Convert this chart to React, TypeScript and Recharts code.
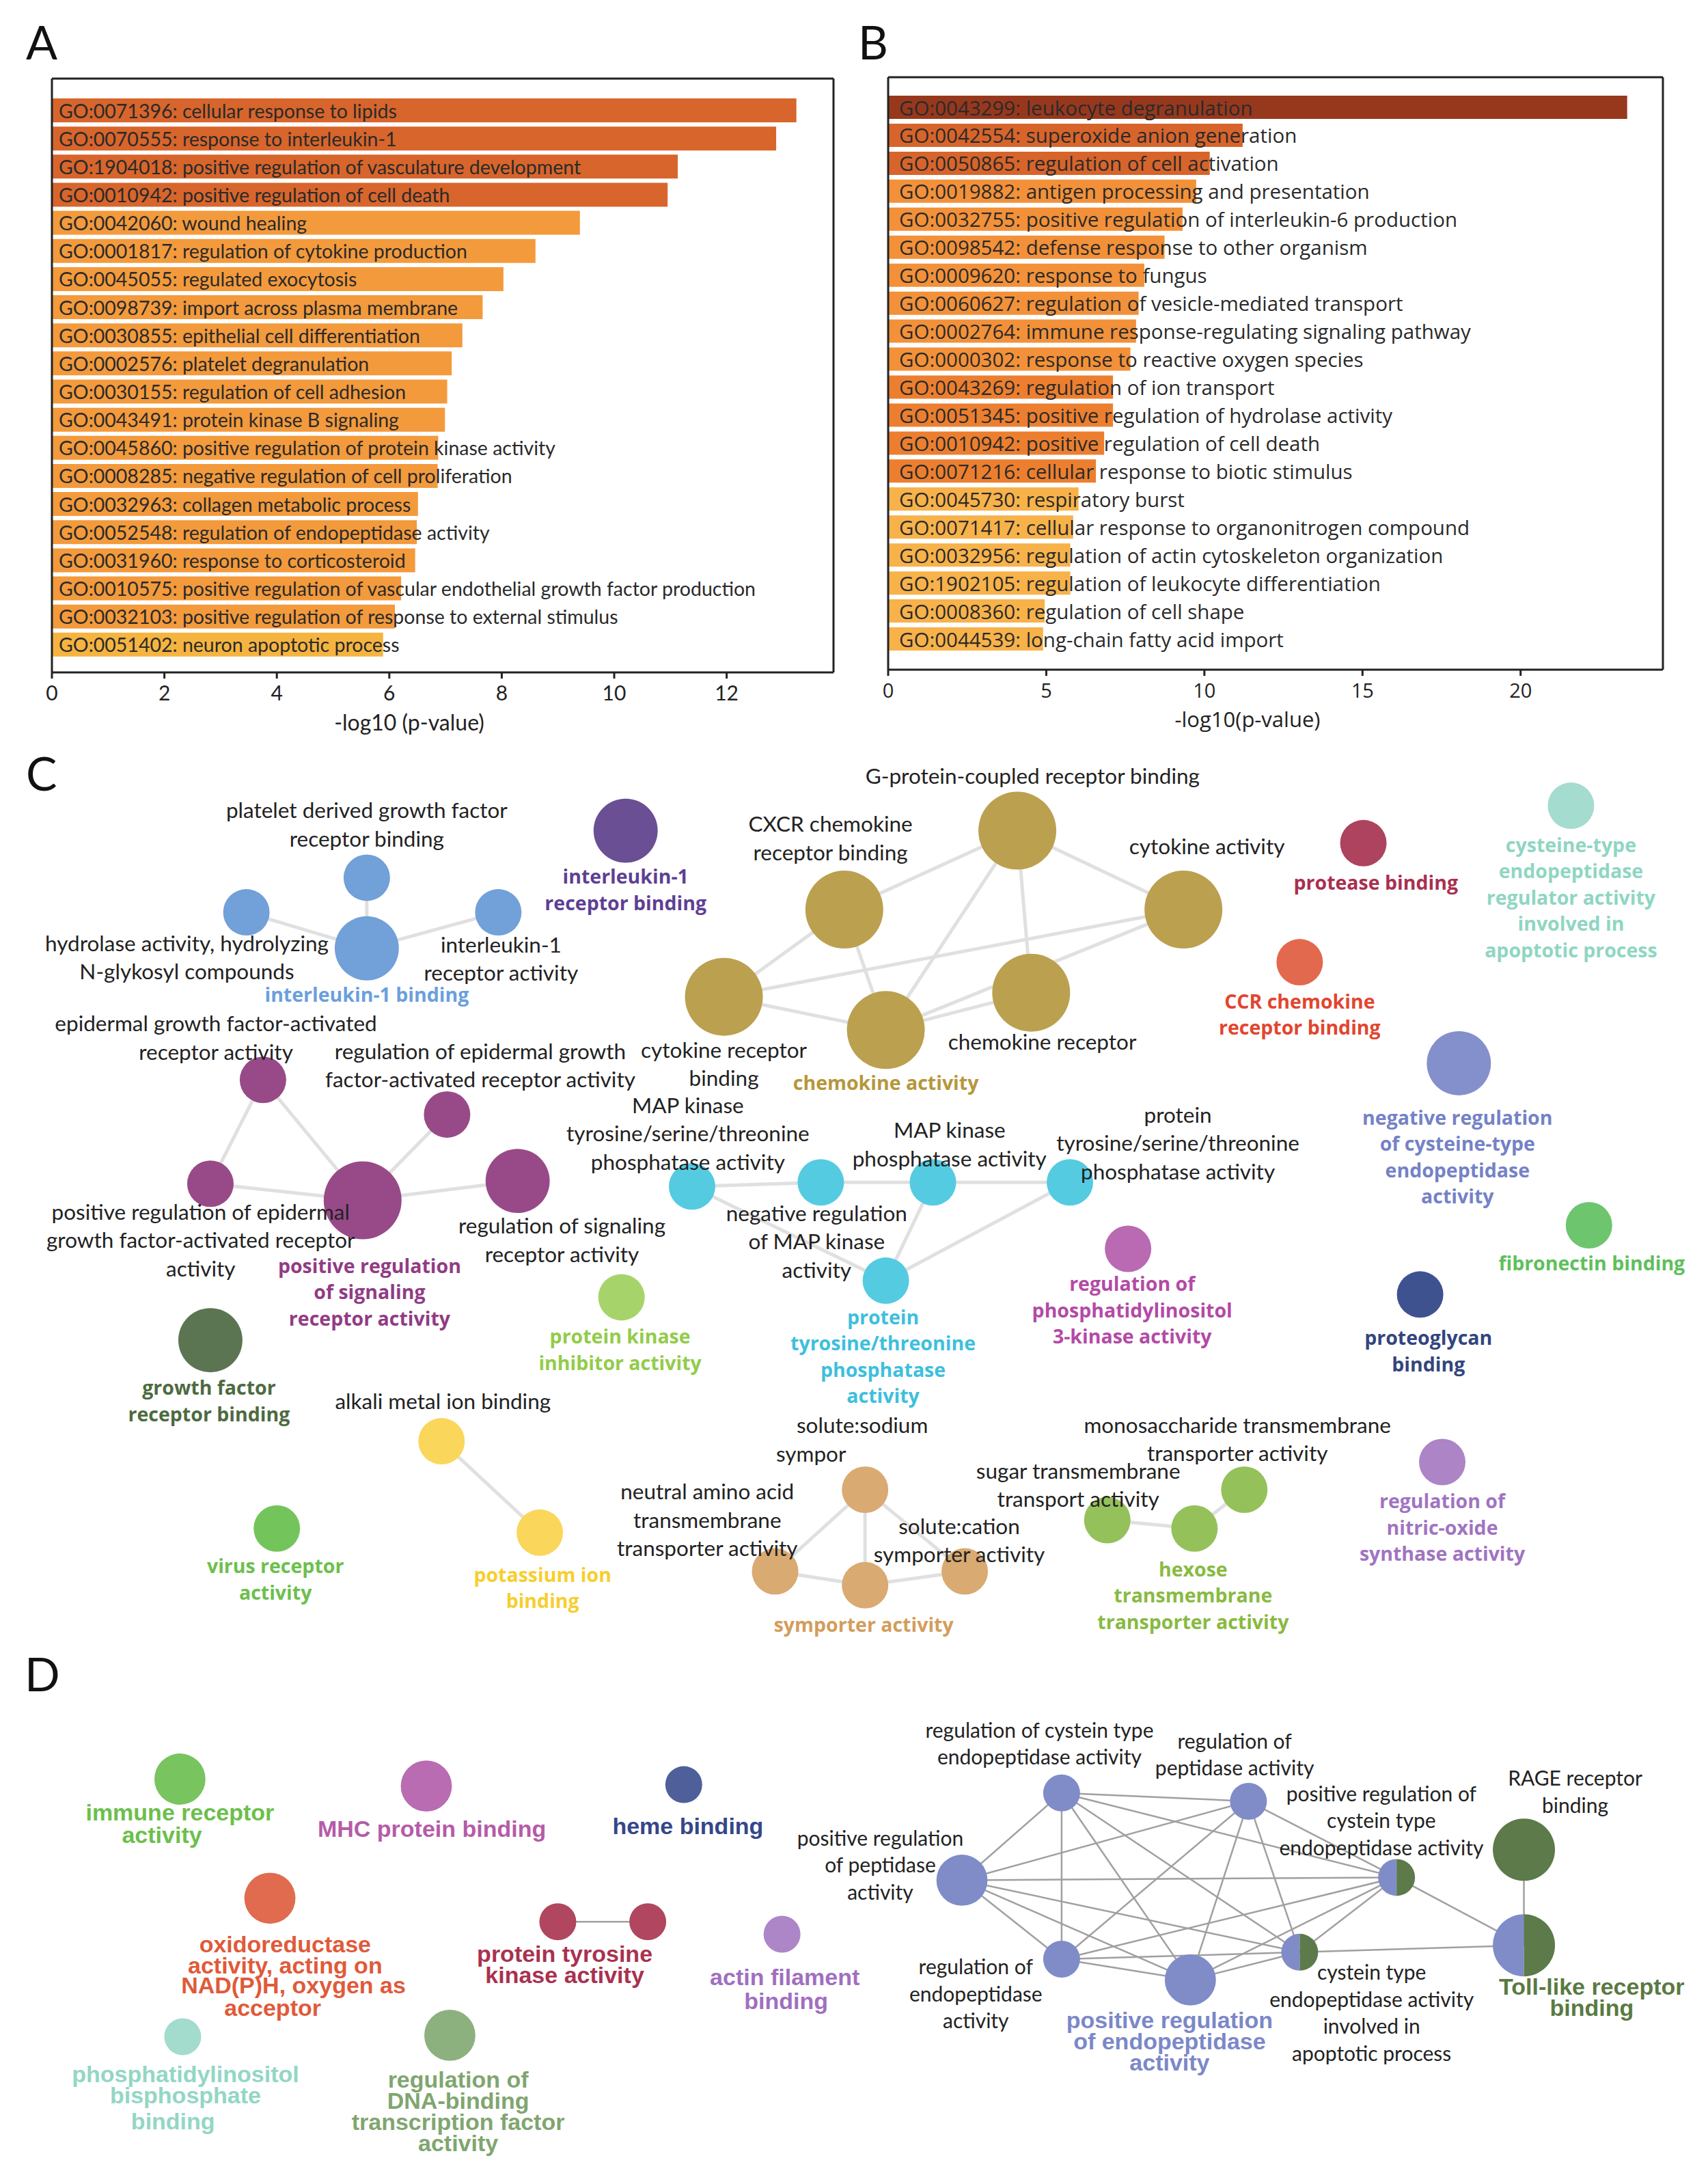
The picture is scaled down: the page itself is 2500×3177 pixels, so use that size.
import React from 'react';
import {
  BarChart, Bar, XAxis, YAxis, Cell, LabelList, Label,
  ScatterChart, Scatter, ZAxis,
} from 'recharts';

// ---------- Panel A ----------
const termsA = [
  'GO:0071396: cellular response to lipids',
  'GO:0070555: response to interleukin-1',
  'GO:1904018: positive regulation of vasculature development',
  'GO:0010942: positive regulation of cell death',
  'GO:0042060: wound healing',
  'GO:0001817: regulation of cytokine production',
  'GO:0045055: regulated exocytosis',
  'GO:0098739: import across plasma membrane',
  'GO:0030855: epithelial cell differentiation',
  'GO:0002576: platelet degranulation',
  'GO:0030155: regulation of cell adhesion',
  'GO:0043491: protein kinase B signaling',
  'GO:0045860: positive regulation of protein kinase activity',
  'GO:0008285: negative regulation of cell proliferation',
  'GO:0032963: collagen metabolic process',
  'GO:0052548: regulation of endopeptidase activity',
  'GO:0031960: response to corticosteroid',
  'GO:0010575: positive regulation of vascular endothelial growth factor production',
  'GO:0032103: positive regulation of response to external stimulus',
  'GO:0051402: neuron apoptotic process',
];
const valuesA = [13.24, 12.88, 11.13, 10.95, 9.39, 8.6, 8.03, 7.66, 7.3, 7.11, 7.03, 6.99, 6.87, 6.86, 6.51, 6.49, 6.46, 6.21, 6.1, 5.89];
const levelsA = [0, 0, 0, 0, 1, 1, 1, 1, 1, 1, 1, 1, 1, 1, 1, 1, 1, 1, 1, 2];
const ticksA = [0, 2, 4, 6, 8, 10, 12];

// ---------- Panel B ----------
const termsB = [
  'GO:0043299: leukocyte degranulation',
  'GO:0042554: superoxide anion generation',
  'GO:0050865: regulation of cell activation',
  'GO:0019882: antigen processing and presentation',
  'GO:0032755: positive regulation of interleukin-6 production',
  'GO:0098542: defense response to other organism',
  'GO:0009620: response to fungus',
  'GO:0060627: regulation of vesicle-mediated transport',
  'GO:0002764: immune response-regulating signaling pathway',
  'GO:0000302: response to reactive oxygen species',
  'GO:0043269: regulation of ion transport',
  'GO:0051345: positive regulation of hydrolase activity',
  'GO:0010942: positive regulation of cell death',
  'GO:0071216: cellular response to biotic stimulus',
  'GO:0045730: respiratory burst',
  'GO:0071417: cellular response to organonitrogen compound',
  'GO:0032956: regulation of actin cytoskeleton organization',
  'GO:1902105: regulation of leukocyte differentiation',
  'GO:0008360: regulation of cell shape',
  'GO:0044539: long-chain fatty acid import',
];
const valuesB = [23.37, 11.21, 10.17, 9.74, 9.31, 8.74, 8.1, 7.92, 7.84, 7.66, 7.11, 7.11, 6.83, 6.57, 6.02, 5.85, 5.76, 5.76, 4.95, 4.9];
const levelsB = [0, 1, 1, 3, 3, 3, 3, 3, 3, 3, 2, 2, 2, 2, 4, 4, 4, 4, 4, 4];
const ticksB = [0, 5, 10, 15, 20];

const paletteA = ['#d8652b', '#f39a3c', '#f5b440'];
const paletteB = ['#97381d', '#d7642b', '#ec7f2f', '#f29139', '#f7b24a'];

// ---------- Panel C network ----------
const nodesC = [
  { id: 'pdgf', x: 265, y: 634, size: 1, group: 'il1b' },
  { id: 'hydro', x: 178, y: 659, size: 1, group: 'il1b' },
  { id: 'il1ra', x: 360, y: 659, size: 1, group: 'il1b' },
  { id: 'il1b', x: 265, y: 685, size: 2, group: 'il1b' },
  { id: 'il1rb', x: 452, y: 600, size: 2, group: 'il1rb' },
  { id: 'gpcr', x: 735, y: 600, size: 3, group: 'chemo' },
  { id: 'cxcr', x: 610, y: 657, size: 3, group: 'chemo' },
  { id: 'cytact', x: 855, y: 657, size: 3, group: 'chemo' },
  { id: 'cytrec', x: 523, y: 720, size: 3, group: 'chemo' },
  { id: 'chemoact', x: 640, y: 744, size: 3, group: 'chemo' },
  { id: 'chemorec', x: 745, y: 717, size: 3, group: 'chemo' },
  { id: 'protease', x: 985, y: 609, size: 1, group: 'protease' },
  { id: 'ccr', x: 939, y: 695, size: 1, group: 'ccr' },
  { id: 'cysreg', x: 1135, y: 582, size: 1, group: 'cysreg' },
  { id: 'egfr', x: 190, y: 780, size: 1, group: 'sig' },
  { id: 'regegfr', x: 323, y: 805, size: 1, group: 'sig' },
  { id: 'posegfr', x: 152, y: 855, size: 1, group: 'sig' },
  { id: 'possig', x: 262, y: 867, size: 3, group: 'sig' },
  { id: 'regsig', x: 374, y: 853, size: 2, group: 'sig' },
  { id: 'mapk3', x: 500, y: 857, size: 1, group: 'ptp' },
  { id: 'negmapk', x: 593, y: 854, size: 1, group: 'ptp' },
  { id: 'mkp', x: 674, y: 854, size: 1, group: 'ptp' },
  { id: 'ptyr3', x: 773, y: 854, size: 1, group: 'ptp' },
  { id: 'ptp', x: 640, y: 925, size: 1, group: 'ptp' },
  { id: 'negcys', x: 1054, y: 768, size: 2, group: 'negcys' },
  { id: 'fibro', x: 1148, y: 885, size: 1, group: 'fibro' },
  { id: 'pi3k', x: 815, y: 902, size: 1, group: 'pi3k' },
  { id: 'proteo', x: 1026, y: 935, size: 1, group: 'proteo' },
  { id: 'pki', x: 449, y: 937, size: 1, group: 'pki' },
  { id: 'gfrb', x: 152, y: 968, size: 2, group: 'gfrb' },
  { id: 'alkali', x: 319, y: 1041, size: 1, group: 'potas' },
  { id: 'potas', x: 390, y: 1107, size: 1, group: 'potas' },
  { id: 'virus', x: 200, y: 1104, size: 1, group: 'virus' },
  { id: 'sodium', x: 625, y: 1076, size: 1, group: 'symp' },
  { id: 'neutral', x: 560, y: 1135, size: 1, group: 'symp' },
  { id: 'symp', x: 625, y: 1145, size: 1, group: 'symp' },
  { id: 'cation', x: 697, y: 1135, size: 1, group: 'symp' },
  { id: 'sugar', x: 800, y: 1098, size: 1, group: 'hex' },
  { id: 'hexose', x: 863, y: 1104, size: 1, group: 'hex' },
  { id: 'mono', x: 899, y: 1076, size: 1, group: 'hex' },
  { id: 'nos', x: 1042, y: 1056, size: 1, group: 'nos' },
];

const edgesC = [
  ['il1b', 'pdgf'], ['il1b', 'hydro'], ['il1b', 'il1ra'],
  ['gpcr', 'cxcr'], ['gpcr', 'cytact'], ['gpcr', 'chemorec'], ['gpcr', 'chemoact'],
  ['cxcr', 'cytrec'], ['cxcr', 'chemoact'], ['cytrec', 'cytact'], ['cytrec', 'chemoact'],
  ['chemoact', 'chemorec'], ['chemoact', 'cytact'],
  ['egfr', 'posegfr'], ['egfr', 'possig'], ['regegfr', 'possig'], ['posegfr', 'possig'], ['possig', 'regsig'],
  ['mapk3', 'negmapk'], ['negmapk', 'mkp'], ['mkp', 'ptyr3'], ['mapk3', 'ptp'], ['mkp', 'ptp'], ['ptyr3', 'ptp'],
  ['alkali', 'potas'],
  ['sodium', 'symp'], ['sodium', 'neutral'], ['sodium', 'cation'], ['neutral', 'symp'], ['symp', 'cation'],
  ['sugar', 'hexose'], ['hexose', 'mono'],
];

const labelsC = [
  { x: 265, y: 585, lines: ['platelet derived growth factor', 'receptor binding'] },
  { x: 135, y: 681, lines: ['hydrolase activity, hydrolyzing', 'N-glykosyl compounds'] },
  { x: 362, y: 682, lines: ['interleukin-1', 'receptor activity'] },
  { x: 746, y: 560, lines: ['G-protein-coupled receptor binding'] },
  { x: 600, y: 595, lines: ['CXCR chemokine', 'receptor binding'] },
  { x: 872, y: 611, lines: ['cytokine activity'] },
  { x: 523, y: 758, lines: ['cytokine receptor', 'binding'] },
  { x: 753, y: 752, lines: ['chemokine receptor'] },
  { x: 156, y: 739, lines: ['epidermal growth factor-activated', 'receptor activity'] },
  { x: 347, y: 759, lines: ['regulation of epidermal growth', 'factor-activated receptor activity'] },
  { x: 145, y: 875, lines: ['positive regulation of epidermal', 'growth factor-activated receptor', 'activity'] },
  { x: 406, y: 885, lines: ['regulation of signaling', 'receptor activity'] },
  { x: 497, y: 798, lines: ['MAP kinase', 'tyrosine/serine/threonine', 'phosphatase activity'] },
  { x: 686, y: 816, lines: ['MAP kinase', 'phosphatase activity'] },
  { x: 851, y: 805, lines: ['protein', 'tyrosine/serine/threonine', 'phosphatase activity'] },
  { x: 590, y: 876, lines: ['negative regulation', 'of MAP kinase', 'activity'] },
  { x: 320, y: 1012, lines: ['alkali metal ion binding'] },
  { x: 623, y: 1029, lines: ['solute:sodium'] },
  { x: 586, y: 1050, lines: ['sympor'] },
  { x: 511, y: 1077, lines: ['neutral amino acid', 'transmembrane', 'transporter activity'] },
  { x: 693, y: 1102, lines: ['solute:cation', 'symporter activity'] },
  { x: 894, y: 1029, lines: ['monosaccharide transmembrane', 'transporter activity'] },
  { x: 779, y: 1062, lines: ['sugar transmembrane', 'transport activity'] },
  { x: 265, y: 718, lines: ['interleukin-1 binding'], group: 'il1b' },
  { x: 452, y: 633, lines: ['interleukin-1', 'receptor binding'], group: 'il1rb' },
  { x: 640, y: 782, lines: ['chemokine activity'], group: 'chemo' },
  { x: 994, y: 637, lines: ['protease binding'], group: 'protease' },
  { x: 939, y: 723, lines: ['CCR chemokine', 'receptor binding'], group: 'ccr' },
  { x: 1135, y: 610, lines: ['cysteine-type', 'endopeptidase', 'regulator activity', 'involved in', 'apoptotic process'], group: 'cysreg' },
  { x: 267, y: 914, lines: ['positive regulation', 'of signaling', 'receptor activity'], group: 'sig' },
  { x: 638, y: 951, lines: ['protein', 'tyrosine/threonine', 'phosphatase', 'activity'], group: 'ptp' },
  { x: 1053, y: 807, lines: ['negative regulation', 'of cysteine-type', 'endopeptidase', 'activity'], group: 'negcys' },
  { x: 1150, y: 912, lines: ['fibronectin binding'], group: 'fibro' },
  { x: 818, y: 927, lines: ['regulation of', 'phosphatidylinositol', '3-kinase activity'], group: 'pi3k' },
  { x: 1032, y: 966, lines: ['proteoglycan', 'binding'], group: 'proteo' },
  { x: 448, y: 965, lines: ['protein kinase', 'inhibitor activity'], group: 'pki' },
  { x: 151, y: 1002, lines: ['growth factor', 'receptor binding'], group: 'gfrb' },
  { x: 392, y: 1137, lines: ['potassium ion', 'binding'], group: 'potas' },
  { x: 199, y: 1131, lines: ['virus receptor', 'activity'], group: 'virus' },
  { x: 624, y: 1173, lines: ['symporter activity'], group: 'symp' },
  { x: 862, y: 1133, lines: ['hexose', 'transmembrane', 'transporter activity'], group: 'hex' },
  { x: 1042, y: 1084, lines: ['regulation of', 'nitric-oxide', 'synthase activity'], group: 'nos' },
];

// ---------- Panel D network ----------
const nodesD = [
  { id: 'immune', x: 130, y: 1285, size: 2, group: 'immune' },
  { id: 'mhc', x: 308, y: 1290, size: 2, group: 'mhc' },
  { id: 'heme', x: 494, y: 1289, size: 1, group: 'heme' },
  { id: 'oxido', x: 195, y: 1371, size: 2, group: 'oxido' },
  { id: 'ptk1', x: 403, y: 1388, size: 1, group: 'ptk' },
  { id: 'ptk2', x: 468, y: 1388, size: 1, group: 'ptk' },
  { id: 'actin', x: 565, y: 1397, size: 1, group: 'actin' },
  { id: 'pip2', x: 132, y: 1471, size: 1, group: 'pip2' },
  { id: 'dna', x: 325, y: 1470, size: 2, group: 'dna' },
  { id: 'regcys', x: 767, y: 1295, size: 1, group: 'pep' },
  { id: 'regpep', x: 902, y: 1301, size: 1, group: 'pep' },
  { id: 'posregcys', x: 1009, y: 1356, size: 1, group: 'mixed' },
  { id: 'posregpep', x: 695, y: 1358, size: 2, group: 'pep' },
  { id: 'regendo', x: 767, y: 1415, size: 1, group: 'pep' },
  { id: 'posregendo', x: 860, y: 1430, size: 2, group: 'pep' },
  { id: 'cysapop', x: 939, y: 1410, size: 1, group: 'mixed' },
  { id: 'rage', x: 1101, y: 1336, size: 3, group: 'rage' },
  { id: 'toll', x: 1101, y: 1405, size: 3, group: 'mixed' },
];

const cliqueD = ['regcys', 'regpep', 'posregcys', 'posregpep', 'regendo', 'posregendo', 'cysapop'];
const edgesD = [
  ['ptk1', 'ptk2'],
  ...cliqueD.flatMap((a, i) => cliqueD.slice(i + 1).map((b) => [a, b])),
  ['cysapop', 'toll'], ['posregcys', 'toll'], ['rage', 'toll'],
];

const labelsD = [
  { x: 130, y: 1309, lines: ['immune receptor'], group: 'immune' },
  { x: 117, y: 1325, lines: ['activity'], group: 'immune' },
  { x: 312, y: 1321, lines: ['MHC protein binding'], group: 'mhc' },
  { x: 497, y: 1319, lines: ['heme binding'], group: 'heme' },
  { x: 206, y: 1404, lines: ['oxidoreductase', 'activity, acting on'], group: 'oxido' },
  { x: 212, y: 1434, lines: ['NAD(P)H, oxygen as'], group: 'oxido' },
  { x: 197, y: 1450, lines: ['acceptor'], group: 'oxido' },
  { x: 408, y: 1411, lines: ['protein tyrosine', 'kinase activity'], group: 'ptk' },
  { x: 567, y: 1428, lines: ['actin filament'], group: 'actin' },
  { x: 568, y: 1445, lines: ['binding'], group: 'actin' },
  { x: 134, y: 1498, lines: ['phosphatidylinositol', 'bisphosphate'], group: 'pip2' },
  { x: 125, y: 1532, lines: ['binding'], group: 'pip2' },
  { x: 331, y: 1502, lines: ['regulation of', 'DNA-binding', 'transcription factor', 'activity'], group: 'dna' },
  { x: 845, y: 1459, lines: ['positive regulation', 'of endopeptidase', 'activity'], group: 'pep' },
  { x: 1150, y: 1435, lines: ['Toll-like receptor', 'binding'], group: 'rage' },
  { x: 751, y: 1249, lines: ['regulation of cystein type', 'endopeptidase activity'] },
  { x: 892, y: 1257, lines: ['regulation of', 'peptidase activity'] },
  { x: 998, y: 1295, lines: ['positive regulation of', 'cystein type', 'endopeptidase activity'] },
  { x: 1138, y: 1284, lines: ['RAGE receptor', 'binding'] },
  { x: 636, y: 1327, lines: ['positive regulation', 'of peptidase', 'activity'] },
  { x: 705, y: 1420, lines: ['regulation of', 'endopeptidase', 'activity'] },
  { x: 991, y: 1424, lines: ['cystein type', 'endopeptidase activity', 'involved in', 'apoptotic process'] },
];

// ---------- styles ----------
const nodeColors: Record<string, string | string[]> = {
  il1b: '#72a0d8', il1rb: '#6a4f95', chemo: '#bba050', protease: '#ad435e', ccr: '#e2694d',
  cysreg: '#a4dccf', sig: '#984a88', ptp: '#55cbe2', negcys: '#8490cb', fibro: '#6dc56d',
  pi3k: '#b96ab3', proteo: '#3f5290', pki: '#a7d46a', gfrb: '#5b7552', potas: '#fad65a',
  virus: '#74c45c', symp: '#d9aa72', hex: '#94c15a', nos: '#ad84c6',
  immune: '#78c45f', mhc: '#b96cb2', heme: '#4f5f9a', oxido: '#e06b4f', ptk: '#b0465f',
  actin: '#ad86c7', pip2: '#a3dbcd', dna: '#8db07f', pep: '#7f8cc8', rage: '#5c7a4a',
  mixed: ['#7f8cc8', '#5c7a4a'],
};
const labelColors: Record<string, string> = {
  il1b: '#6b9fdc', il1rb: '#5e3f94', chemo: '#b5973c', protease: '#a8304f', ccr: '#e2452f',
  cysreg: '#8fd6c2', sig: '#923b84', ptp: '#3ebfdd', negcys: '#7482c6', fibro: '#5ec05c',
  pi3k: '#b34aa6', proteo: '#33457e', pki: '#92cc4a', gfrb: '#4d6b3f', potas: '#f7ce2d',
  virus: '#6cc04c', symp: '#d39d5c', hex: '#88ba42', nos: '#9f74c1',
  immune: '#6cbf4c', mhc: '#b55ba8', heme: '#35468a', oxido: '#e05a3a', ptk: '#a8324f',
  actin: '#a06fc0', pip2: '#93d6c5', dna: '#7fa670', pep: '#7b88c8', rage: '#5a7a42',
};

const NARROW = 'Lato, "Liberation Sans", sans-serif';
const WIDE = '"Open Sans", "Noto Sans", sans-serif';
const ARIAL = '"Liberation Sans", Arial, sans-serif';

const styleC = {
  plain: { font: NARROW, size: 31.5, weight: 400, gap: 41.5 },
  bold: { font: WIDE, size: 28.5, weight: 700, gap: 38.5 },
  edge: { stroke: '#e0e0e0', width: 5 },
};
const styleD = {
  plain: { font: NARROW, size: 30, weight: 400, gap: 39.5 },
  bold: { font: ARIAL, size: 34, weight: 700, gap: 31 },
  edge: { stroke: '#a0a0a0', width: 2.5 },
};

const NodeShape = (props: any) => {
  const { cx, cy, payload } = props;
  const r = props.size ? Math.sqrt(props.size / Math.PI) : (props.width || 40) / 2;
  const c = nodeColors[payload.group];
  if (Array.isArray(c)) {
    return (
      <g>
        <path d={`M${cx},${cy - r} A${r},${r} 0 0 0 ${cx},${cy + r} Z`} fill={c[0]} />
        <path d={`M${cx},${cy - r} A${r},${r} 0 0 1 ${cx},${cy + r} Z`} fill={c[1]} />
      </g>
    );
  }
  return <circle cx={cx} cy={cy} r={r} fill={c as string} />;
};

const makeLabelShape = (st: any) => (props: any) => {
  const { cx, cy, payload } = props;
  const s = payload.group ? st.bold : st.plain;
  const fill = payload.group ? labelColors[payload.group] : '#222';
  return (
    <g>
      {payload.lines.map((t: string, i: number) => (
        <text key={i} x={cx} y={cy + i * s.gap} textAnchor="middle" dominantBaseline="central"
          fontFamily={s.font} fontSize={s.size} fontWeight={s.weight} fill={fill}>{t}</text>
      ))}
    </g>
  );
};

const Empty = () => <g />;

function Network({ nodes, edges, labels, yDomain, top, height, st, zRange }: any) {
  const byId: Record<string, any> = {};
  nodes.forEach((n: any) => { byId[n.id] = n; });
  const LabelShape = makeLabelShape(st);
  return (
    <div style={{ position: 'absolute', left: 0, top, width: 2500, height }}>
      <ScatterChart width={2500} height={height} margin={{ top: 0, right: 0, bottom: 0, left: 0 }}>
        <XAxis type="number" dataKey="x" domain={[0, 1234]} allowDataOverflow hide />
        <YAxis type="number" dataKey="y" domain={yDomain} allowDataOverflow reversed hide />
        <ZAxis type="number" dataKey="size" domain={[1, 3]} range={zRange} />
        {edges.map(([a, b]: string[], i: number) => (
          <Scatter key={`e${i}`} data={[byId[a], byId[b]]} shape={Empty}
            line={{ stroke: st.edge.stroke, strokeWidth: st.edge.width }} isAnimationActive={false} />
        ))}
        <Scatter data={nodes} shape={NodeShape} isAnimationActive={false} />
        <Scatter data={labels} shape={LabelShape} isAnimationActive={false} />
      </ScatterChart>
    </div>
  );
}

const makeBarLabel = (font: string, fontSize: number, offset: number) => (props: any) => {
  const vb = props.viewBox || props;
  const x = Number(vb.x);
  const y = Number(vb.y) + Number(vb.height) / 2;
  return (
    <text x={x + offset} y={y} dominantBaseline="central" fontFamily={font} fontSize={fontSize} fill="#2a2a2a">
      {props.value}
    </text>
  );
};

const frameLine = { stroke: '#222', strokeWidth: 3 };

function BarPanel({ terms, values, levels, palette, ticks, domainMax, left, width, plotLeft, plotRight, plotTop, plotBottom, padTop, padBottom, barSize, font, fontSize, tickFontSize, labelOffset, title, titleDx }: any) {
  const height = 1110;
  const axisH = 50;
  const data = terms.map((t: string, i: number) => ({ term: t, value: values[i], level: levels[i] }));
  return (
    <div style={{ position: 'absolute', left, top: 0, width, height }}>
      <BarChart width={width} height={height} data={data} layout="vertical"
        margin={{ top: plotTop - 1, left: plotLeft - left - 1, right: left + width - plotRight - 1, bottom: height - plotBottom - axisH }}>
        <XAxis type="number" domain={[0, domainMax]} ticks={ticks} allowDataOverflow height={axisH}
          axisLine={frameLine} tickLine={frameLine} tickSize={9} tickMargin={11}
          tick={{ fontFamily: font, fontSize: tickFontSize, fill: '#222' }}>
          <Label value={title} position="bottom" offset={12} dx={titleDx}
            style={{ fontFamily: font, fontSize: tickFontSize + 2, fill: '#222' }} />
        </XAxis>
        <XAxis xAxisId="top" orientation="top" type="number" domain={[0, domainMax]} allowDataOverflow
          height={1} axisLine={frameLine} tick={false} tickLine={false} />
        <YAxis type="category" dataKey="term" width={1} tick={false} tickLine={false} axisLine={frameLine}
          padding={{ top: padTop, bottom: padBottom }} />
        <YAxis yAxisId="right" orientation="right" type="category" dataKey="term" width={1} tick={false}
          tickLine={false} axisLine={frameLine} />
        <Bar dataKey="value" barSize={barSize} isAnimationActive={false}>
          {data.map((d: any, i: number) => <Cell key={i} fill={palette[d.level]} />)}
          <LabelList dataKey="term" content={makeBarLabel(font, fontSize, labelOffset)} />
        </Bar>
      </BarChart>
    </div>
  );
}

const letterStyle: React.CSSProperties = {
  position: 'absolute', fontFamily: NARROW, fontSize: 68, lineHeight: '68px', color: '#111',
};

export default function App() {
  return (
    <div style={{ position: 'absolute', left: 0, top: 0, width: 2500, height: 3177, background: '#fff', overflow: 'hidden' }}>
      <div style={{ ...letterStyle, left: 38, top: 27 }}>A</div>
      <div style={{ ...letterStyle, left: 1256, top: 27 }}>B</div>
      <div style={{ ...letterStyle, left: 38, top: 1097 }}>C</div>
      <div style={{ ...letterStyle, left: 36, top: 2415 }}>D</div>

      <BarPanel terms={termsA} values={valuesA} levels={levelsA} palette={paletteA} ticks={ticksA}
        domainMax={13.9} left={0} width={1250} plotLeft={76} plotRight={1220} plotTop={115} plotBottom={984}
        padTop={26} padBottom={20} barSize={35} font={NARROW} fontSize={28.5} tickFontSize={30} labelOffset={10}
        title="-log10 (p-value)" titleDx={-49} />
      <BarPanel terms={termsB} values={valuesB} levels={levelsB} palette={paletteB} ticks={ticksB}
        domainMax={24.5} left={1250} width={1250} plotLeft={1300} plotRight={2434} plotTop={113} plotBottom={980}
        padTop={24} padBottom={24} barSize={34} font={WIDE} fontSize={29.5} tickFontSize={29} labelOffset={16}
        title="-log10(p-value)" titleDx={-41} />

      <Network nodes={nodesC} edges={edgesC} labels={labelsC} yDomain={[540, 1190]}
        top={1094} height={1317} st={styleC} zRange={[3632, 10207]} />
      <Network nodes={nodesD} edges={edgesD} labels={labelsD} yDomain={[1190, 1568]}
        top={2411} height={766} st={styleD} zRange={[2290, 6504]} />
    </div>
  );
}
